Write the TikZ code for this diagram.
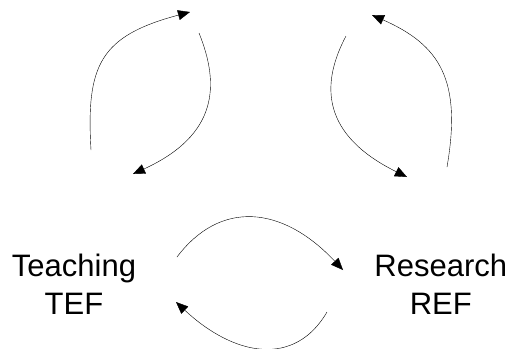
\documentclass[tikz,border=0pt]{standalone}
\usepackage{fontspec}
\setmainfont{Liberation Sans}
\usetikzlibrary{positioning, arrows.meta}
\tikzset{
->, % every curve is directed
>={Triangle[length=12bp, width=10bp]}, % filled heads
line width=1.4bp, % thin hand drawn look
every node/.style={font=\fontsize{31bp}{38bp}\selectfont, align=center, inner sep=0pt},
}

\begin{document}
\begin{tikzpicture}[x=1bp, y=-1bp]
  \useasboundingbox (0,0) rectangle (509,348);

  \node (teaching) at (74,284) {Teaching\\TEF};
  \node[right=238bp of teaching] (research) {Research\\REF};

  % ends of the curves
  \coordinate (l1) at (91,150);
  \coordinate (l2) at (190,12);
  \coordinate (l3) at (199,33);
  \coordinate (l4) at (133,174);
  \coordinate (r1) at (346,36);
  \coordinate (r2) at (407,177);
  \coordinate (r3) at (447,167);
  \coordinate (r4) at (372,15);
  \coordinate (b1) at (177,257);
  \coordinate (b2) at (343,270);
  \coordinate (b3) at (327,312);
  \coordinate (b4) at (176,302);

  \draw (l1) .. controls (86,65) and (100,36) .. (l2);
  \draw (l3) .. controls (220,85) and (218,135) .. (l4);
  \draw (r1) .. controls (320,85) and (322,135) .. (r2);
  \draw (r3) .. controls (462,80) and (440,45) .. (r4);
  \draw (b1) .. controls (220,200) and (282,205) .. (b2);
  \draw (b3) .. controls (295,367) and (235,357) .. (b4);

\end{tikzpicture}
\end{document}
